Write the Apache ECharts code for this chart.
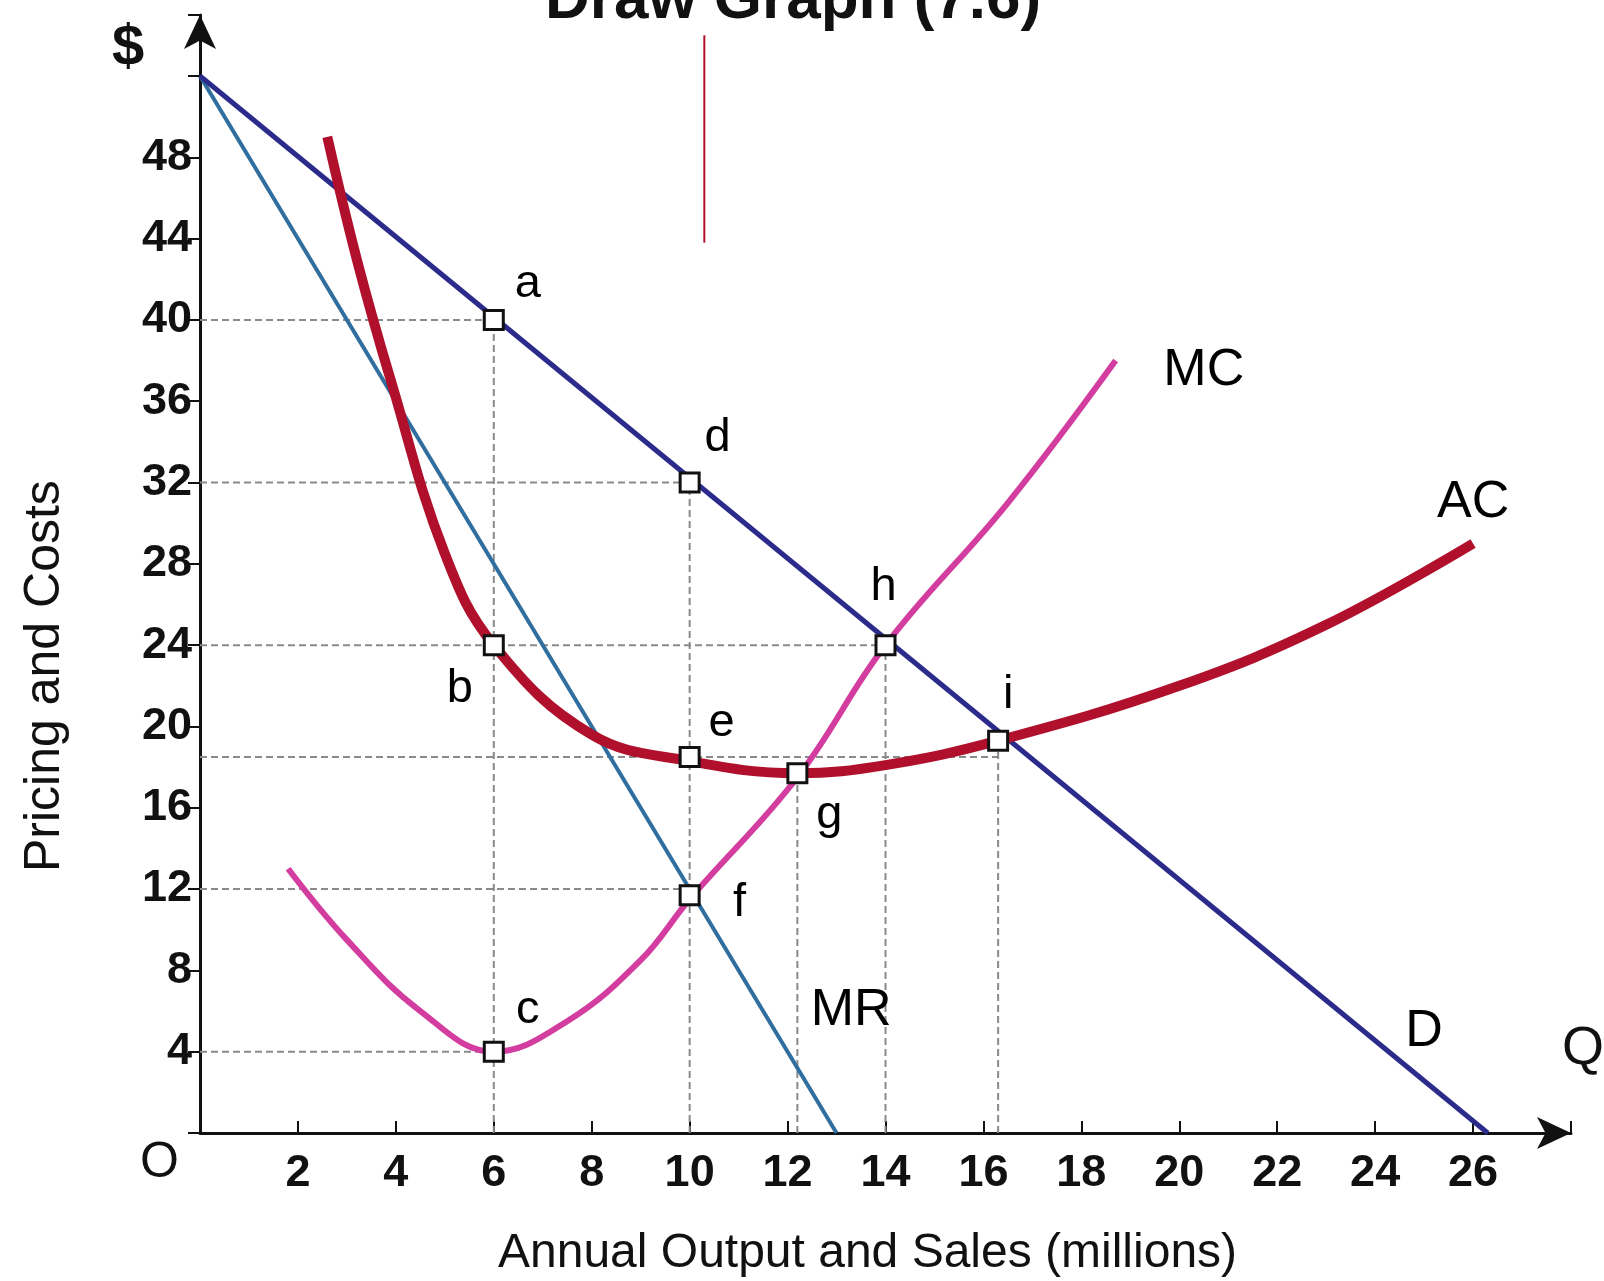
<!DOCTYPE html>
<html>
<head>
<meta charset="utf-8">
<script src="https://cdn.jsdelivr.net/npm/echarts@6/dist/echarts.min.js"></script>
<style>html,body{margin:0;background:#fff}#c{width:1604px;height:1281px}</style>
</head>
<body>
<div id="c"></div>
<script>
// values (Q in millions, $)
const demand = [[0, 52], [26.3, 0]];
const marginalRevenue = [[0, 52], [13, 0]];
const marginalCost = [[1.8, 13], [3, 9.5], [4.5, 6], [6, 4], [7.5, 5.5], [9, 8.5], [10, 11.5], [12.2, 17.5], [14, 24], [16.5, 31], [18.7, 38]];
const averageCost = [[2.6, 49], [3.2, 43], [3.9, 37], [5, 28.5], [6, 24], [8, 19.6], [10, 18.3], [12.2, 17.7], [14, 18.1], [16.3, 19.3], [20, 22], [23, 25], [26, 29]];
const points = [
  {name: "a", q: 6, p: 40, dx: 34, dy: -36},
  {name: "d", q: 10, p: 32, dx: 28, dy: -44},
  {name: "h", q: 14, p: 24, dx: -2, dy: -58},
  {name: "i", q: 16.3, p: 19.3, dx: 10, dy: -46},
  {name: "b", q: 6, p: 24, dx: -34, dy: 44},
  {name: "e", q: 10, p: 18.5, dx: 32, dy: -34},
  {name: "g", q: 12.2, p: 17.7, dx: 32, dy: 42},
  {name: "f", q: 10, p: 11.7, dx: 50, dy: 8},
  {name: "c", q: 6, p: 4, dx: 34, dy: -42}
];
const guidesH = [[40, 6], [32, 10], [24, 14], [18.5, 16.3], [12, 10], [4, 6]];
const guidesV = [[6, 40], [10, 32], [12.2, 17.7], [14, 24], [16.3, 19.3]];
const curveLabels = [["MC", 20.5, 37.5], ["AC", 26, 31], ["MR", 13.3, 6], ["D", 25, 5]];

const chart = echarts.init(document.getElementById("c"));
const font = "'Liberation Sans Narrow', 'Liberation Sans', Arial, sans-serif";

const series = [];
guidesH.forEach(([p, q]) => series.push({type: "line", data: [[0, p], [q, p]], symbol: "none", z: 1,
  lineStyle: {color: "#8a8a8a", width: 2, type: [7, 4]}}));
guidesV.forEach(([q, p]) => series.push({type: "line", data: [[q, 0], [q, p]], symbol: "none", z: 1,
  lineStyle: {color: "#8a8a8a", width: 2, type: [7, 4]}}));
series.push({type: "line", data: marginalRevenue, symbol: "none", z: 3, lineStyle: {color: "#2f6e9e", width: 4}});
series.push({type: "line", data: demand, symbol: "none", z: 3, lineStyle: {color: "#2b2b8c", width: 5}});
series.push({type: "line", data: marginalCost, smooth: 0.4, symbol: "none", z: 4, lineStyle: {color: "#d33d9f", width: 6}});
series.push({type: "line", data: averageCost, smooth: 0.4, symbol: "none", z: 5, lineStyle: {color: "#b0102c", width: 10}});
series.push({type: "line", data: [[10.3, 43.8], [10.3, 54]], symbol: "none", z: 2, lineStyle: {color: "#b0102c", width: 2}});
series.push({type: "scatter", z: 10, symbol: "rect", symbolSize: 19, emphasis: {disabled: true},
  itemStyle: {color: "#fff", borderColor: "#111", borderWidth: 3, opacity: 1},
  data: points.map(pt => ({value: [pt.q, pt.p], label: {show: true, formatter: pt.name, offset: [pt.dx, pt.dy],
    fontSize: 47, fontFamily: font, color: "#000", opacity: 1}}))});
series.push({type: "scatter", symbolSize: 0, z: 10,
  data: curveLabels.map(([t, q, p]) => ({value: [q, p], label: {show: true, formatter: t, fontSize: 52,
    fontFamily: font, color: "#000", opacity: 1, position: "inside"}}))});

chart.setOption({
  animation: false,
  grid: {left: 200, right: 33, top: 15, bottom: 148, outerBoundsMode: "none", containLabel: false},
  xAxis: {type: "value", min: 0, max: 28, interval: 2,
    axisLine: {lineStyle: {color: "#111", width: 3}, symbol: ["none", "arrow"], symbolSize: [24, 34]},
    axisTick: {show: true, inside: true, length: 12, lineStyle: {width: 2, color: "#111"}},
    splitLine: {show: false},
    axisLabel: {fontSize: 45, fontWeight: "bold", fontFamily: font, color: "#111", margin: 18,
      formatter: v => (v === 0 || v >= 28 ? "" : String(v))}},
  yAxis: {type: "value", min: 0, max: 55, interval: 4,
    axisLine: {lineStyle: {color: "#111", width: 3}, symbol: ["none", "arrow"], symbolSize: [24, 34]},
    axisTick: {show: true, length: 12, lineStyle: {width: 2, color: "#111"}},
    splitLine: {show: false},
    axisLabel: {fontSize: 45, fontWeight: "bold", fontFamily: font, color: "#111", margin: 8,
      formatter: v => (v === 0 || v > 48 ? "" : String(v))}},
  graphic: [
    {type: "text", left: 112, top: 20, style: {text: "$", fontSize: 58, fontWeight: "bold", fontFamily: font, fill: "#111"}},
    {type: "text", left: 140, top: 1138, style: {text: "O", fontSize: 50, fontFamily: font, fill: "#111"}},
    {type: "text", left: 1562, top: 1022, style: {text: "Q", fontSize: 54, fontFamily: font, fill: "#111"}},
    {type: "text", left: 498, top: 1230, style: {text: "Annual Output and Sales (millions)", fontSize: 48, fontFamily: font, fill: "#111"}},
    {type: "text", x: 20, y: 872, rotation: Math.PI / 2, style: {text: "Pricing and Costs", fontSize: 50, fontFamily: font, fill: "#111"}},
    {type: "text", left: 545, top: -30, style: {text: "Draw Graph (7.6)", fontSize: 62, fontWeight: "bold", fontFamily: font, fill: "#111"}}
  ],
  series
});
</script>
</body>
</html>
